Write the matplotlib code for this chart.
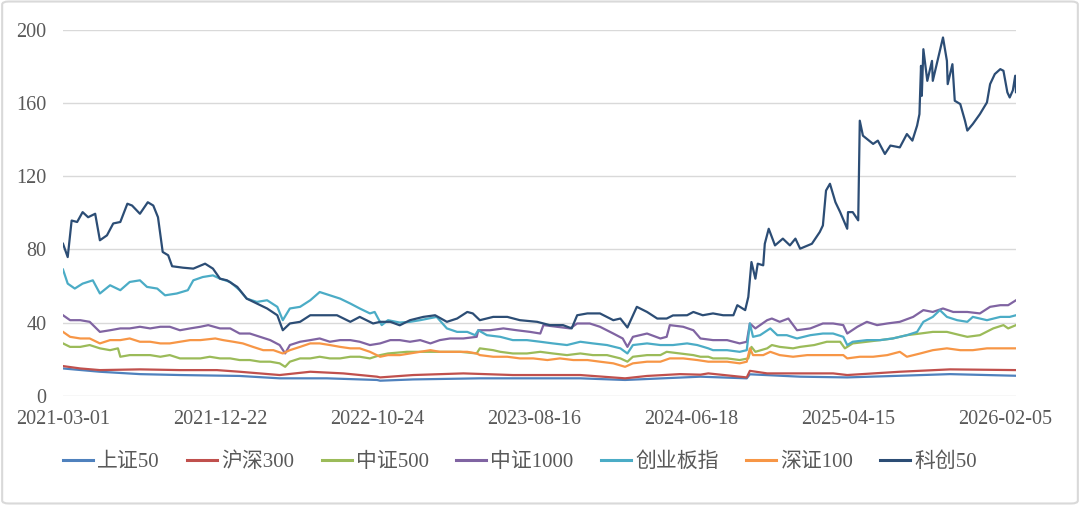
import matplotlib
matplotlib.use("Agg")
import matplotlib.pyplot as plt
from matplotlib.patches import FancyBboxPatch

plt.rcParams['font.family'] = ['Liberation Serif', 'Noto Sans CJK SC', 'DejaVu Sans']

# x positions are trading-day indices from 2021-03-01
tick_pos = [0, 200, 400, 600, 800, 1000, 1200]
tick_labels = ["2021-03-01", "2021-12-22", "2022-10-24", "2023-08-16",
               "2024-06-18", "2025-04-15", "2026-02-05"]
x_end = 1214

names = ["上证50", "沪深300", "中证500", "中证1000", "创业板指", "深证100", "科创50"]
colors = ["#4F81BD", "#C0504D", "#9BBB59", "#8064A2", "#4BACC6", "#F79646", "#2C4D75"]

sz50_x = [0, 47, 98, 149, 225, 276, 336, 400, 404, 446, 531, 659, 716, 812, 871, 875,
          939, 999, 1066, 1130, 1214]
sz50_y = [14.9, 13.1, 11.8, 11.3, 10.8, 9.5, 9.5, 8.6, 8.2, 8.9, 9.5, 9.5, 8.6, 10.4, 9.5, 11.7,
          10.4, 10.0, 10.9, 11.8, 10.9]

hs300_x = [0, 22, 47, 98, 149, 196, 225, 276, 315, 357, 400, 404, 446, 510, 573, 659, 716,
           744, 786, 812, 822, 871, 875, 897, 981, 999, 1066, 1130, 1214]
hs300_y = [16.2, 14.9, 14.0, 14.4, 14.0, 14.0, 13.1, 11.3, 13.1, 12.2, 10.4, 10.0, 11.3, 12.2,
           11.3, 11.3, 9.5, 10.8, 11.8, 11.5, 12.2, 10.0, 13.6, 12.2, 12.2, 11.3, 13.1, 14.4, 14.0]

zz500_x = [0, 9, 22, 34, 47, 60, 70, 73, 85, 98, 111, 124, 136, 149, 162, 175, 187, 200, 213,
           225, 238, 251, 264, 276, 283, 289, 302, 315, 327, 340, 353, 366, 378, 391, 404, 414,
           438, 459, 480, 506, 527, 531, 548, 557, 573, 591, 608, 624, 642, 659, 675, 693, 710,
           719, 726, 744, 761, 769, 786, 803, 812, 822, 828, 846, 862, 873, 877, 882, 897, 903,
           913, 930, 939, 957, 973, 990, 996, 1006, 1024, 1041, 1057, 1075, 1092, 1108, 1126,
           1143, 1152, 1168, 1185, 1198, 1204, 1214]
zz500_y = [28.6, 26.7, 26.7, 27.7, 25.9, 24.9, 25.9, 21.3, 22.2, 22.2, 22.2, 21.3, 22.2, 20.4,
           20.4, 20.4, 21.3, 20.4, 20.4, 19.5, 19.5, 18.6, 18.6, 17.7, 15.8, 18.6, 20.4, 20.4,
           21.3, 20.4, 20.4, 21.3, 21.3, 20.4, 22.2, 23.1, 24.0, 24.0, 24.0, 24.0, 23.1, 25.9,
           24.9, 24.0, 23.1, 23.1, 24.0, 23.1, 22.2, 23.1, 22.2, 22.2, 20.4, 18.6, 21.3, 22.2,
           22.2, 24.0, 23.1, 22.2, 21.3, 21.3, 20.4, 20.4, 19.5, 20.4, 26.7, 24.0, 25.9, 27.7,
           26.7, 25.9, 26.7, 27.7, 29.5, 29.5, 25.9, 28.6, 29.5, 30.4, 31.3, 33.1, 34.0, 34.9,
           34.9, 33.1, 32.2, 33.1, 36.8, 38.6, 36.8, 38.6]

zz1000_x = [0, 9, 22, 34, 47, 60, 73, 85, 98, 111, 124, 136, 149, 162, 175, 185, 200, 213, 225,
            238, 251, 264, 276, 283, 289, 302, 315, 327, 340, 353, 366, 378, 391, 404, 417, 429,
            442, 455, 468, 480, 493, 510, 527, 529, 544, 561, 578, 595, 608, 612, 629, 646, 655,
            671, 684, 701, 713, 719, 726, 744, 761, 769, 773, 790, 803, 812, 828, 846, 862, 871,
            875, 882, 897, 903, 913, 924, 935, 952, 968, 981, 994, 999, 1012, 1024, 1037, 1050,
            1066, 1083, 1096, 1108, 1121, 1134, 1152, 1168, 1181, 1194, 1204, 1214]
zz1000_y = [44.0, 41.3, 41.3, 40.4, 34.9, 35.8, 36.8, 36.8, 37.7, 36.8, 37.7, 37.7, 35.8, 36.8,
            37.7, 38.6, 36.8, 36.8, 34.0, 34.0, 32.2, 30.4, 27.7, 23.1, 27.7, 29.5, 30.4, 31.3,
            29.5, 30.4, 30.4, 29.5, 27.7, 28.6, 30.4, 30.4, 29.5, 30.4, 28.6, 30.4, 31.3, 31.3,
            32.2, 35.8, 35.8, 36.8, 35.8, 34.9, 34.0, 38.6, 37.7, 36.8, 39.5, 39.5, 37.7, 34.0,
            31.3, 26.7, 32.2, 34.0, 31.3, 32.2, 38.6, 37.7, 35.8, 31.3, 30.4, 30.4, 28.6, 29.5,
            39.5, 36.8, 41.3, 42.2, 40.4, 42.2, 35.8, 36.8, 39.5, 39.5, 38.6, 34.0, 37.7, 40.4,
            38.6, 39.5, 40.4, 43.1, 46.8, 45.8, 47.7, 45.8, 45.8, 45.0, 48.6, 49.5, 49.5, 52.2]

cyb_x = [0, 6, 15, 25, 38, 47, 60, 73, 85, 98, 107, 120, 130, 145, 159, 166, 178, 191, 200, 213,
         225, 234, 247, 260, 273, 280, 289, 302, 315, 327, 340, 353, 366, 378, 391, 397, 406, 414,
         429, 442, 455, 476, 489, 502, 515, 525, 529, 540, 557, 573, 591, 608, 624, 642, 659, 675,
         693, 710, 719, 726, 744, 761, 777, 795, 808, 822, 828, 846, 862, 871, 875, 879, 888, 901,
         910, 922, 935, 952, 968, 981, 994, 999, 1006, 1024, 1041, 1057, 1075, 1088, 1096, 1108,
         1117, 1126, 1139, 1152, 1159, 1177, 1194, 1206, 1214]
cyb_y = [69.0, 61.3, 58.6, 61.3, 63.1, 55.9, 60.4, 57.7, 62.2, 63.1, 59.5, 58.6, 54.9, 55.9, 57.7,
         63.1, 64.9, 65.8, 64.0, 62.2, 57.7, 53.1, 51.3, 52.2, 48.6, 41.3, 47.7, 48.6, 52.2, 56.7,
         54.9, 53.1, 50.4, 47.7, 45.0, 45.8, 38.6, 41.3, 40.0, 40.4, 41.3, 43.1, 36.8, 34.9, 34.9,
         33.1, 35.8, 33.1, 32.2, 30.4, 30.4, 29.5, 28.6, 27.7, 29.5, 28.6, 27.7, 25.9, 23.1, 27.7,
         28.6, 27.7, 27.7, 28.6, 27.7, 25.9, 24.9, 24.9, 24.0, 24.9, 39.5, 32.2, 33.1, 36.8, 33.1,
         33.1, 31.3, 33.1, 34.0, 34.0, 32.2, 27.7, 29.5, 30.4, 30.4, 31.3, 33.1, 34.9, 40.4, 43.1,
         46.8, 43.1, 41.3, 40.4, 43.1, 41.3, 43.1, 43.1, 44.0]

sz100_x = [0, 9, 22, 34, 47, 60, 73, 85, 98, 111, 124, 136, 149, 162, 175, 194, 204, 217, 229,
           242, 255, 268, 280, 289, 302, 315, 327, 340, 353, 366, 378, 391, 404, 414, 429, 442,
           455, 468, 480, 497, 515, 527, 531, 548, 566, 582, 599, 617, 633, 650, 668, 684, 701,
           716, 726, 744, 761, 773, 790, 808, 822, 846, 862, 871, 875, 879, 892, 901, 913, 930,
           948, 964, 981, 994, 999, 1015, 1032, 1050, 1066, 1075, 1092, 1108, 1126, 1143, 1159,
           1177, 1194, 1214]
sz100_y = [34.9, 32.2, 31.3, 31.3, 28.6, 30.4, 30.4, 31.3, 29.5, 29.5, 28.6, 28.6, 29.5, 30.4,
           30.4, 31.3, 30.4, 29.5, 28.6, 26.7, 24.9, 24.9, 23.1, 24.9, 26.7, 28.6, 28.6, 27.7,
           26.7, 25.9, 25.9, 24.0, 21.3, 22.2, 22.2, 23.1, 24.0, 24.9, 24.0, 24.0, 24.0, 23.1,
           22.2, 21.3, 21.3, 20.4, 20.4, 19.5, 20.4, 19.5, 19.5, 18.6, 17.7, 15.8, 17.7, 18.6,
           18.6, 20.4, 20.4, 19.5, 18.6, 18.6, 17.7, 18.6, 25.9, 22.2, 22.2, 24.0, 22.2, 21.3,
           22.2, 22.2, 22.2, 22.2, 20.4, 21.3, 21.3, 22.2, 24.0, 21.3, 23.1, 24.9, 25.9, 24.9,
           24.9, 25.9, 25.9, 25.9]

kc50_x = [0, 6, 11, 18, 25, 32, 41, 47, 56, 64, 73, 82, 88, 98, 108, 115, 121, 127, 134, 139,
          153, 166, 181, 191, 200, 209, 222, 234, 247, 260, 273, 280, 289, 302, 315, 336, 349,
          366, 378, 395, 404, 417, 429, 442, 459, 474, 489, 502, 515, 522, 531, 548, 566, 582,
          604, 620, 637, 648, 655, 668, 684, 701, 710, 719, 731, 744, 757, 769, 777, 795, 803,
          815, 828, 841, 854, 859, 869, 873, 877, 882, 885, 892, 894, 899, 907, 917, 926, 933,
          939, 954, 964, 968, 972, 977, 984, 990, 999, 1000, 1006, 1013, 1015, 1019, 1032, 1038,
          1047, 1054, 1066, 1075, 1082, 1088, 1091, 1093, 1094, 1096, 1101, 1107, 1108, 1117,
          1121, 1126, 1127, 1133, 1136, 1143, 1149, 1152, 1159, 1168, 1177, 1181, 1187, 1194,
          1198, 1203, 1206, 1210, 1213, 1214]
kc50_y = [83.1, 75.8, 95.8, 95.0, 100.4, 97.6, 99.5, 85.0, 87.7, 94.2, 95.0, 105.0, 104.0, 99.5,
          105.8, 104.0, 97.6, 78.6, 76.8, 70.8, 70.0, 69.5, 72.2, 69.5, 64.0, 63.1, 59.5, 53.1,
          50.4, 47.7, 44.0, 35.8, 39.5, 40.4, 44.0, 44.0, 44.0, 40.4, 43.1, 39.5, 40.4, 40.4,
          38.5, 41.3, 43.1, 44.0, 40.4, 42.2, 45.8, 45.0, 41.3, 43.1, 43.1, 41.3, 40.4, 38.6,
          38.6, 36.8, 44.0, 45.0, 45.0, 41.3, 42.2, 37.3, 48.6, 45.8, 42.2, 42.2, 43.9, 44.0,
          45.8, 44.0, 45.0, 44.0, 44.0, 49.5, 46.8, 54.0, 73.1, 64.0, 72.2, 71.3, 83.1, 91.3,
          82.2, 85.9, 82.2, 85.9, 80.4, 83.1, 89.5, 93.1, 112.2, 115.9, 105.8, 100.4, 91.3, 100.4,
          100.4, 95.9, 150.4, 142.2, 137.7, 139.5, 132.2, 136.8, 135.8, 143.1, 139.5, 147.7,
          154.0, 180.4, 164.0, 189.5, 172.2, 183.1, 172.2, 188.6, 195.9, 183.1, 170.4, 181.3,
          161.3, 159.5, 150.4, 145.0, 148.6, 154.0, 160.4, 170.4, 175.9, 178.6, 177.7, 165.9,
          163.1, 167.0, 175.0, 166.0]

series = [(sz50_x, sz50_y), (hs300_x, hs300_y), (zz500_x, zz500_y), (zz1000_x, zz1000_y),
          (cyb_x, cyb_y), (sz100_x, sz100_y), (kc50_x, kc50_y)]

fig = plt.figure(figsize=(10.8, 5.05), dpi=100)
ax = fig.add_axes([63/1080, 1 - 395.7/505, (1016 - 63)/1080, (395.7 - 30)/505])

for (xs, ys), name, c in zip(series, names, colors):
    ax.plot(xs, ys, color=c, lw=1.6, label=name, solid_joinstyle='round')

ax.set_xlim(0, x_end)
ax.set_ylim(0, 200)
ax.set_yticks(range(0, 201, 40))
ax.set_xticks(tick_pos)
ax.set_xticklabels(tick_labels)
ax.grid(axis='y', color='#D9D9D9', lw=1.0)
ax.set_axisbelow(True)
for s in ax.spines.values():
    s.set_visible(False)
ax.tick_params(axis='both', length=0, labelsize=14.5, colors='#595959')
ax.tick_params(axis='y', pad=12)
ax.tick_params(axis='x', pad=10)

leg = fig.legend(loc='center', bbox_to_anchor=(520/1080, 1 - 462/505), ncol=7,
                 frameon=False, fontsize=15, handlelength=1.45, handletextpad=0.2,
                 columnspacing=1.3)
for t in leg.get_texts():
    t.set_color('#595959')
for h in leg.get_lines():
    h.set_linewidth(2.2)

border = FancyBboxPatch((0.002, 0.003), 0.996, 0.994, boxstyle="round,pad=0,rounding_size=0.006",
                        transform=fig.transFigure, fill=False, ec='#D9D9D9', lw=1.5)
fig.patches.append(border)

fig.savefig("out.png", dpi=100)
